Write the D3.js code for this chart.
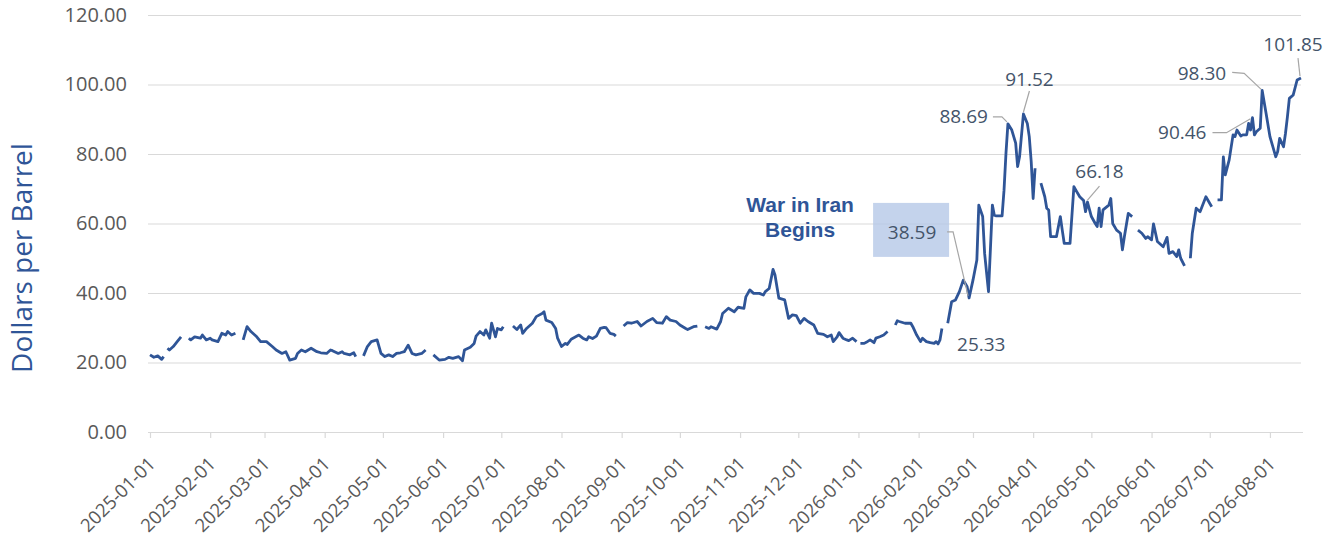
<!DOCTYPE html>
<html>
<head>
<meta charset="utf-8">
<script src="https://cdn.jsdelivr.net/npm/d3@7"></script>
<style>
  html, body { margin: 0; padding: 0; background: #fff; }
  svg { display: block; font-family: "Open Sans", "Noto Sans", sans-serif; }
</style>
</head>
<body>
<svg id="chart" width="1332" height="550"></svg>
<script>
// daily price; null = gap in the series
const prices2025 = [
  ["2025-01-01", 22.2], ["2025-01-03", 21.5], ["2025-01-05", 21.9], ["2025-01-07", 20.9], ["2025-01-08", 21.7],
  ["2025-01-09", null],
  ["2025-01-10", 24.1], ["2025-01-11", 23.6], ["2025-01-13", 24.6], ["2025-01-15", 26.0], ["2025-01-17", 27.4],
  ["2025-01-19", null],
  ["2025-01-21", 27.0], ["2025-01-22", 26.5], ["2025-01-24", 27.4], ["2025-01-27", 27.0], ["2025-01-28", 27.9],
  ["2025-01-30", 26.5], ["2025-02-01", 27.0], ["2025-02-02", 26.5], ["2025-02-05", 26.0], ["2025-02-07", 28.4],
  ["2025-02-09", 27.9], ["2025-02-10", 28.9], ["2025-02-12", 27.9], ["2025-02-14", 28.4],
  ["2025-02-16", null],
  ["2025-02-18", 26.5], ["2025-02-20", 30.3], ["2025-02-22", 28.9], ["2025-02-25", 27.4], ["2025-02-27", 26.0],
  ["2025-03-02", 26.0], ["2025-03-05", 24.6], ["2025-03-07", 23.6], ["2025-03-10", 22.6], ["2025-03-12", 23.1],
  ["2025-03-14", 20.7], ["2025-03-17", 21.2], ["2025-03-18", 22.6], ["2025-03-20", 23.6], ["2025-03-22", 23.1],
  ["2025-03-25", 24.1], ["2025-03-28", 23.1], ["2025-03-30", 22.8], ["2025-04-02", 22.6], ["2025-04-04", 23.6],
  ["2025-04-05", 23.4], ["2025-04-08", 22.6], ["2025-04-10", 23.1], ["2025-04-11", 22.6], ["2025-04-14", 22.2],
  ["2025-04-16", 22.8], ["2025-04-17", 21.7],
  ["2025-04-19", null],
  ["2025-04-21", 21.9], ["2025-04-23", 24.6], ["2025-04-25", 26.0], ["2025-04-28", 26.5], ["2025-04-30", 22.6],
  ["2025-05-02", 21.7], ["2025-05-04", 22.2], ["2025-05-06", 21.7], ["2025-05-08", 22.6], ["2025-05-10", 22.8],
  ["2025-05-12", 23.1], ["2025-05-14", 25.0], ["2025-05-16", 22.6], ["2025-05-18", 22.2], ["2025-05-21", 22.6],
  ["2025-05-23", 23.6],
  ["2025-05-25", null],
  ["2025-05-27", 22.2], ["2025-05-30", 20.7], ["2025-06-02", 20.9], ["2025-06-04", 21.5], ["2025-06-06", 21.2],
  ["2025-06-09", 21.7], ["2025-06-11", 20.5], ["2025-06-12", 23.6], ["2025-06-15", 24.4], ["2025-06-17", 25.5],
  ["2025-06-18", 27.6], ["2025-06-20", 28.9], ["2025-06-22", 27.9], ["2025-06-23", 29.4], ["2025-06-25", 27.0],
  ["2025-06-26", 31.3], ["2025-06-28", 27.4], ["2025-06-29", 29.8], ["2025-07-01", 29.4], ["2025-07-02", 30.3],
  ["2025-07-04", null],
  ["2025-07-07", 30.5], ["2025-07-09", 29.5], ["2025-07-11", 30.8], ["2025-07-12", 28.4], ["2025-07-14", 29.8],
  ["2025-07-17", 31.3], ["2025-07-19", 33.2], ["2025-07-22", 34.1], ["2025-07-23", 34.6], ["2025-07-24", 32.2],
  ["2025-07-27", 31.5], ["2025-07-29", 29.8], ["2025-07-30", 27.0], ["2025-08-01", 24.6], ["2025-08-03", 25.5],
  ["2025-08-04", 25.2], ["2025-08-06", 26.7], ["2025-08-09", 27.6], ["2025-08-10", 27.9], ["2025-08-12", 27.0],
  ["2025-08-14", 26.5], ["2025-08-15", 27.4], ["2025-08-17", 26.9], ["2025-08-19", 27.6], ["2025-08-21", 29.8],
  ["2025-08-23", 30.1], ["2025-08-24", 30.0], ["2025-08-26", 28.4], ["2025-08-28", 28.1], ["2025-08-29", 27.6],
  ["2025-08-31", null],
  ["2025-09-02", 30.5], ["2025-09-04", 31.5], ["2025-09-06", 31.3], ["2025-09-09", 31.8], ["2025-09-11", 30.5],
  ["2025-09-14", 31.8], ["2025-09-17", 32.7], ["2025-09-19", 31.5], ["2025-09-22", 31.3], ["2025-09-24", 33.2],
  ["2025-09-26", 32.2], ["2025-09-29", 31.8], ["2025-10-01", 30.8], ["2025-10-04", 29.8], ["2025-10-05", 29.5],
  ["2025-10-08", 30.3], ["2025-10-10", 30.5],
  ["2025-10-12", null],
  ["2025-10-14", 30.3], ["2025-10-16", 29.8], ["2025-10-17", 30.3], ["2025-10-20", 29.6], ["2025-10-22", 31.8],
  ["2025-10-23", 34.1], ["2025-10-26", 35.6], ["2025-10-29", 34.6], ["2025-10-31", 35.9], ["2025-11-03", 35.6],
  ["2025-11-04", 38.9], ["2025-11-06", 40.9], ["2025-11-08", 39.9], ["2025-11-11", 39.9], ["2025-11-13", 39.4],
  ["2025-11-14", 40.4], ["2025-11-16", 41.3], ["2025-11-18", 46.8], ["2025-11-19", 45.2], ["2025-11-20", 41.8],
  ["2025-11-21", 38.5], ["2025-11-24", 38.0], ["2025-11-26", 32.7], ["2025-11-28", 33.7], ["2025-11-30", 33.5],
  ["2025-12-02", 31.3], ["2025-12-04", 32.7], ["2025-12-06", 31.8], ["2025-12-09", 30.8], ["2025-12-11", 28.4],
  ["2025-12-14", 28.1], ["2025-12-16", 27.4], ["2025-12-18", 27.9], ["2025-12-19", 26.0], ["2025-12-21", 27.4],
  ["2025-12-22", 28.6], ["2025-12-24", 27.0], ["2025-12-26", 26.5], ["2025-12-27", 26.3], ["2025-12-29", 27.0],
  ["2025-12-31", 26.0]
];

const prices2026 = [
  ["2026-01-01", null],
  ["2026-01-02", 25.5], ["2026-01-04", 25.5], ["2026-01-05", 25.8], ["2026-01-07", 26.5], ["2026-01-09", 25.7],
  ["2026-01-10", 27.0], ["2026-01-12", 27.4], ["2026-01-14", 27.9], ["2026-01-16", 28.9],
  ["2026-01-18", null],
  ["2026-01-20", 30.8], ["2026-01-21", 32.0], ["2026-01-22", 31.8], ["2026-01-25", 31.3], ["2026-01-28", 31.3],
  ["2026-01-29", 30.3], ["2026-01-31", 27.9], ["2026-02-02", 26.0], ["2026-02-03", 27.0], ["2026-02-05", 26.0],
  ["2026-02-07", 25.7], ["2026-02-09", 25.5], ["2026-02-10", 26.0], ["2026-02-11", 25.33], ["2026-02-12", 26.5],
  ["2026-02-13", 29.8],
  ["2026-02-14", null],
  ["2026-02-16", 31.3], ["2026-02-18", 37.5], ["2026-02-20", 38.0], ["2026-02-22", 40.4], ["2026-02-24", 43.7],
  ["2026-02-26", 41.8], ["2026-02-27", 38.59], ["2026-03-01", 43.7], ["2026-03-03", 49.5], ["2026-03-04", 65.3],
  ["2026-03-06", 62.0], ["2026-03-07", 51.4], ["2026-03-09", 40.4], ["2026-03-11", 65.3], ["2026-03-12", 62.4],
  ["2026-03-13", 62.2], ["2026-03-16", 62.2], ["2026-03-17", 69.6], ["2026-03-18", 80.2], ["2026-03-19", 88.69],
  ["2026-03-21", 86.9], ["2026-03-23", 83.1], ["2026-03-24", 76.4], ["2026-03-25", 79.2], ["2026-03-27", 91.52],
  ["2026-03-29", 88.8], ["2026-03-30", 85.0], ["2026-03-31", 77.8], ["2026-04-01", 67.2], ["2026-04-02", 75.9],
  ["2026-04-04", null],
  ["2026-04-05", 71.6], ["2026-04-07", 67.7], ["2026-04-08", 64.4], ["2026-04-09", 63.9], ["2026-04-10", 56.2],
  ["2026-04-12", 56.2], ["2026-04-13", 56.2], ["2026-04-15", 62.0], ["2026-04-16", 58.1], ["2026-04-17", 54.3],
  ["2026-04-20", 54.3], ["2026-04-22", 70.6], ["2026-04-23", 69.6], ["2026-04-25", 67.7], ["2026-04-27", 66.6],
  ["2026-04-28", 63.4], ["2026-04-29", 66.18], ["2026-05-01", 62.0], ["2026-05-03", 60.0], ["2026-05-04", 59.1],
  ["2026-05-05", 64.4], ["2026-05-06", 59.1], ["2026-05-07", 63.9], ["2026-05-10", 65.3], ["2026-05-11", 67.2],
  ["2026-05-12", 60.0], ["2026-05-14", 58.1], ["2026-05-16", 57.2], ["2026-05-17", 52.4], ["2026-05-18", 56.2],
  ["2026-05-20", 62.9], ["2026-05-22", 62.0],
  ["2026-05-24", null],
  ["2026-05-25", 58.1], ["2026-05-27", 57.2], ["2026-05-29", 55.7], ["2026-05-30", 56.2], ["2026-06-01", 55.3],
  ["2026-06-02", 59.9], ["2026-06-04", 54.8], ["2026-06-05", 54.3], ["2026-06-07", 53.3], ["2026-06-09", 56.0],
  ["2026-06-10", 51.4], ["2026-06-12", 51.9], ["2026-06-14", 50.5], ["2026-06-15", 52.4], ["2026-06-16", 50.0],
  ["2026-06-18", 47.8],
  ["2026-06-19", null],
  ["2026-06-21", 50.0], ["2026-06-22", 57.2], ["2026-06-24", 64.4], ["2026-06-26", 63.4], ["2026-06-27", 64.8],
  ["2026-06-29", 67.7], ["2026-07-02", 64.8],
  ["2026-07-03", null],
  ["2026-07-05", 66.8], ["2026-07-07", 66.8], ["2026-07-08", 79.2], ["2026-07-09", 74.0], ["2026-07-11", 78.3],
  ["2026-07-13", 85.5], ["2026-07-14", 85.0], ["2026-07-15", 86.9], ["2026-07-17", 85.2], ["2026-07-18", 85.5],
  ["2026-07-20", 85.5], ["2026-07-21", 88.8], ["2026-07-22", 86.9], ["2026-07-23", 90.46], ["2026-07-24", 85.5],
  ["2026-07-25", 86.4], ["2026-07-27", 87.4], ["2026-07-28", 98.30], ["2026-07-30", 91.7], ["2026-08-01", 85.0],
  ["2026-08-04", 79.2], ["2026-08-05", 80.7], ["2026-08-06", 84.5], ["2026-08-08", 82.1], ["2026-08-09", 85.9],
  ["2026-08-10", 90.7], ["2026-08-11", 96.0], ["2026-08-13", 97.0], ["2026-08-15", 101.3], ["2026-08-17", 101.85]
];

const yTicks = [0, 20, 40, 60, 80, 100, 120];
const xStart = "2025-01-01";
const xEnd = "2026-08-17";

// labelled points: date, value, label text
const labelDates = ["2026-02-11", "2026-03-19", "2026-03-27", "2026-04-29", "2026-07-23", "2026-07-28", "2026-08-17"];
const labelTexts = ["25.33", "88.69", "91.52", "66.18", "90.46", "98.30", "101.85"];
const boxedLabel = { date: "2026-02-27", text: "38.59" };
const eventText = ["War in Iran", "Begins"];

// label placement relative to its point (pixels)
const labelLayout = {
  "25.33":  { dx: 19, dy: 0, anchor: "start", leader: null },
  "88.69":  { dx: -20, dy: -7, anchor: "end", leader: [[-15, -7], [-6, -7], [-1, -2]] },
  "91.52":  { dx: 6, dy: -35, anchor: "middle", leader: [[6, -23], [0, -2]] },
  "66.18":  { dx: 12, dy: -31, anchor: "middle", leader: [[12, -16], [0, -2]] },
  "90.46":  { dx: -46, dy: 15, anchor: "end", leader: [[-40, 15], [-26, 15], [-2, 1]] },
  "98.30":  { dx: -36, dy: -17, anchor: "end", leader: [[-30, -18], [-18, -17], [-1, -1]] },
  "101.85": { dx: -8, dy: -34, anchor: "middle", leader: [[-3, -20], [-1, -2]] }
};
const boxLayout = { x: -96, y: -95, w: 76, h: 54, textDx: -57, textDy: -66, leader: [[-22, -66], [-16, -66], [-1, -2]] };
const eventLayout = { dx: -169, dy: -93, lineGap: 25 };

const parse = d3.utcParse("%Y-%m-%d");
const series = prices2025.concat(prices2026).map(d => ({ date: parse(d[0]), value: d[1] }));

const svg = d3.select("#chart");
const plotLeft = 148, plotRight = 1301, plotTop = 15, plotBottom = 432;

const x = d3.scaleUtc().domain([parse(xStart), parse(xEnd)]).range([150, plotRight]);
const y = d3.scaleLinear().domain([0, 120]).range([plotBottom, plotTop]);

// horizontal gridlines + y labels
const yAxis = svg.append("g")
  .attr("transform", `translate(${plotLeft},0)`)
  .call(d3.axisLeft(y).tickValues(yTicks).tickFormat(d3.format(".2f"))
    .tickSize(-(plotRight - plotLeft)).tickPadding(21));
yAxis.select(".domain").remove();
yAxis.selectAll(".tick line").attr("stroke", "#d9d9d9").attr("stroke-width", 1.2);
yAxis.selectAll(".tick text")
  .attr("fill", "#595959")
  .style("font-size", "20px")
  .style("font-family", "'Open Sans', sans-serif");

// x axis with monthly ticks
const xAxis = svg.append("g")
  .attr("transform", `translate(0,${plotBottom})`)
  .call(d3.axisBottom(x).ticks(d3.utcMonth.every(1)).tickFormat(d3.utcFormat("%Y-%m-%d"))
    .tickSize(6).tickSizeOuter(0));
xAxis.select(".domain").attr("stroke", "#d9d9d9").attr("stroke-width", 1.2)
  .attr("d", `M${plotLeft},0.5H${plotRight + 2}`);
xAxis.selectAll(".tick line").attr("stroke", "#d9d9d9").attr("stroke-width", 1.2);
xAxis.selectAll(".tick text")
  .attr("fill", "#595959")
  .attr("x", 0).attr("y", 0).attr("dy", 0)
  .attr("text-anchor", "end")
  .attr("transform", "translate(6,33) rotate(-45)")
  .style("font-size", "18.5px")
  .style("font-family", "'Open Sans', sans-serif");

// y axis title
svg.append("text")
  .attr("transform", "translate(32,258) rotate(-90)")
  .attr("text-anchor", "middle")
  .attr("fill", "#2f5597")
  .style("font-size", "28px")
  .text("Dollars per Barrel");

// price line
const line = d3.line()
  .defined(d => d.value !== null)
  .x(d => x(d.date))
  .y(d => y(d.value));

svg.append("path")
  .datum(series)
  .attr("fill", "none")
  .attr("stroke", "#2f5597")
  .attr("stroke-width", 2.8)
  .attr("stroke-linejoin", "round")
  .attr("d", line);

// boxed label and event note
const bx = x(parse(boxedLabel.date)), by = y(+boxedLabel.text);
svg.append("rect")
  .attr("x", bx + boxLayout.x).attr("y", by + boxLayout.y)
  .attr("width", boxLayout.w).attr("height", boxLayout.h)
  .attr("fill", "#b4c7e7").attr("fill-opacity", 0.78);
svg.append("path")
  .attr("fill", "none").attr("stroke", "#a6a6a6").attr("stroke-width", 1.2)
  .attr("d", d3.line()(boxLayout.leader.map(p => [bx + p[0], by + p[1]])));
svg.append("text")
  .attr("x", bx + boxLayout.textDx).attr("y", by + boxLayout.textDy)
  .attr("dy", "0.35em").attr("text-anchor", "middle")
  .attr("fill", "#44546a").style("font-size", "19px")
  .text(boxedLabel.text);

const note = svg.append("text")
  .attr("text-anchor", "middle")
  .attr("fill", "#2f5597")
  .style("font-family", "'Liberation Sans', Arial, sans-serif")
  .style("font-weight", "bold")
  .style("font-size", "21px");
eventText.forEach((t, i) => {
  note.append("tspan")
    .attr("x", bx + eventLayout.dx)
    .attr("y", by + eventLayout.dy + i * eventLayout.lineGap)
    .attr("dy", "0.35em")
    .text(t);
});

// data labels with leader lines
labelDates.forEach((ds, i) => {
  const t = labelTexts[i];
  const L = labelLayout[t];
  const px = x(parse(ds)), py = y(+t);
  if (L.leader) {
    svg.append("path")
      .attr("fill", "none").attr("stroke", "#a6a6a6").attr("stroke-width", 1.2)
      .attr("d", d3.line()(L.leader.map(p => [px + p[0], py + p[1]])));
  }
  svg.append("text")
    .attr("x", px + L.dx).attr("y", py + L.dy)
    .attr("dy", "0.35em").attr("text-anchor", L.anchor)
    .attr("fill", "#44546a").style("font-size", "19px")
    .text(t);
});
</script>
</body>
</html>
